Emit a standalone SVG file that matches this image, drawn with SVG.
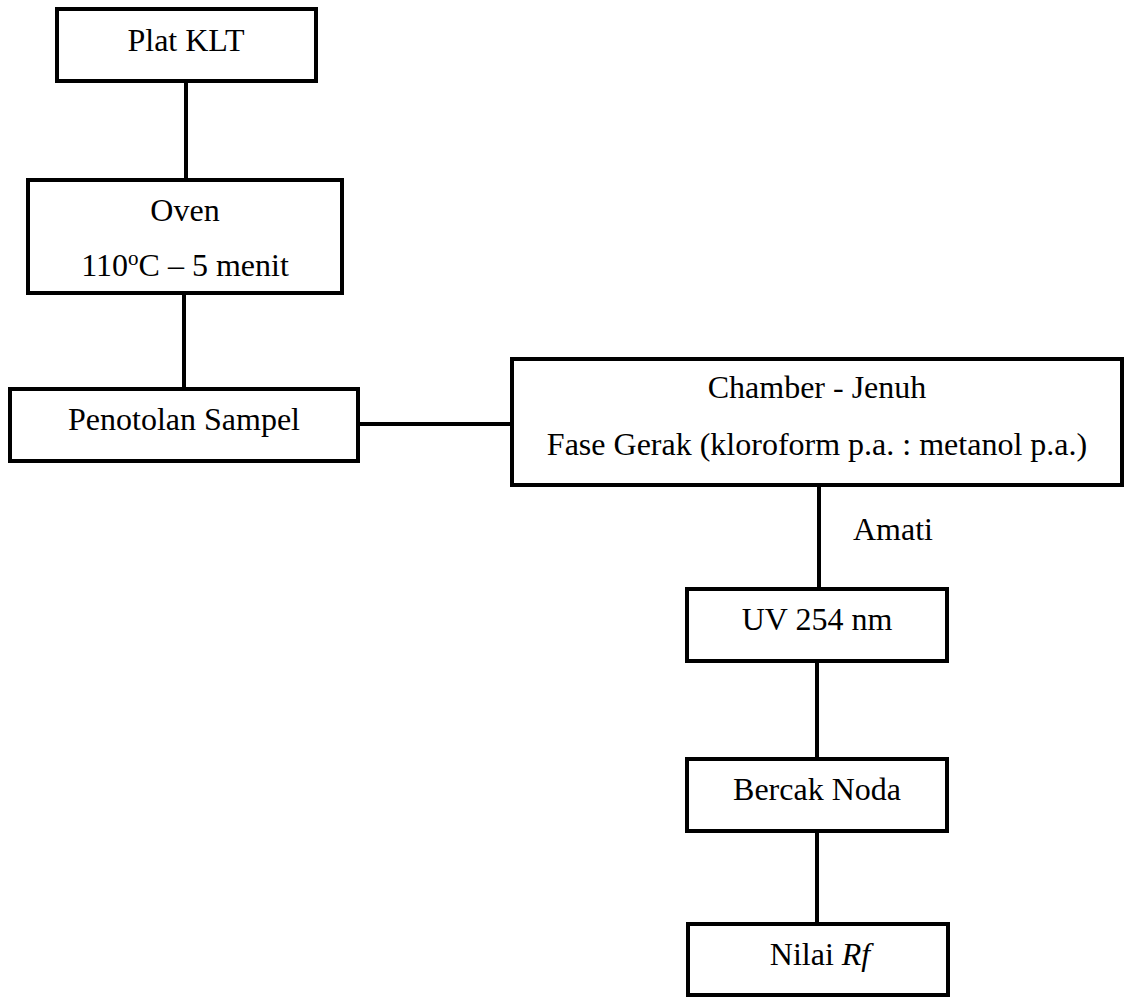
<svg xmlns="http://www.w3.org/2000/svg" width="1128" height="997" viewBox="0 0 1128 997">
  <style>
    .box { fill: #fff; stroke: #000; stroke-width: 4; }
    .wire { stroke: #000; stroke-width: 4; fill: none; }
    .lbl { font-family: "Liberation Serif", "Times New Roman", serif; font-size: 32px; fill: #000; text-anchor: middle; }
    .free { text-anchor: start; }
  </style>
  <rect width="1128" height="997" fill="#fff"/>

  <!-- connectors -->
  <g id="connectors">
    <line class="wire" x1="186" y1="81" x2="186" y2="180"/>
    <line class="wire" x1="184" y1="293" x2="184" y2="389"/>
    <line class="wire" x1="358" y1="424" x2="512" y2="424"/>
    <line class="wire" x1="819" y1="485" x2="819" y2="589"/>
    <line class="wire" x1="817" y1="661" x2="817" y2="759"/>
    <line class="wire" x1="817" y1="831" x2="817" y2="924"/>
    <text class="lbl free" x="853" y="540">Amati</text>
  </g>

  <g id="plat-klt">
    <rect class="box" x="57" y="9" width="259" height="72"/>
    <text class="lbl" x="186" y="51">Plat KLT</text>
  </g>

  <g id="oven">
    <rect class="box" x="28" y="180" width="314" height="113"/>
    <text class="lbl" x="185" y="221">Oven</text>
    <text class="lbl" x="185" y="276">110<tspan font-size="21" dy="-11">o</tspan><tspan dy="11">C – 5 menit</tspan></text>
  </g>

  <g id="penotolan">
    <rect class="box" x="10" y="389" width="348" height="72"/>
    <text class="lbl" x="184" y="430">Penotolan Sampel</text>
  </g>

  <g id="chamber">
    <rect class="box" x="512" y="359" width="610" height="126"/>
    <text class="lbl" x="817" y="398">Chamber - Jenuh</text>
    <text class="lbl" x="817" y="455">Fase Gerak (kloroform p.a. : metanol p.a.)</text>
  </g>

  <g id="uv">
    <rect class="box" x="687" y="589" width="260" height="72"/>
    <text class="lbl" x="817" y="630">UV 254 nm</text>
  </g>

  <g id="bercak">
    <rect class="box" x="687" y="759" width="260" height="72"/>
    <text class="lbl" x="817" y="800">Bercak Noda</text>
  </g>

  <g id="nilai-rf">
    <rect class="box" x="688" y="924" width="260" height="71"/>
    <text class="lbl" x="820" y="965">Nilai <tspan font-style="italic">Rf</tspan></text>
  </g>
</svg>
